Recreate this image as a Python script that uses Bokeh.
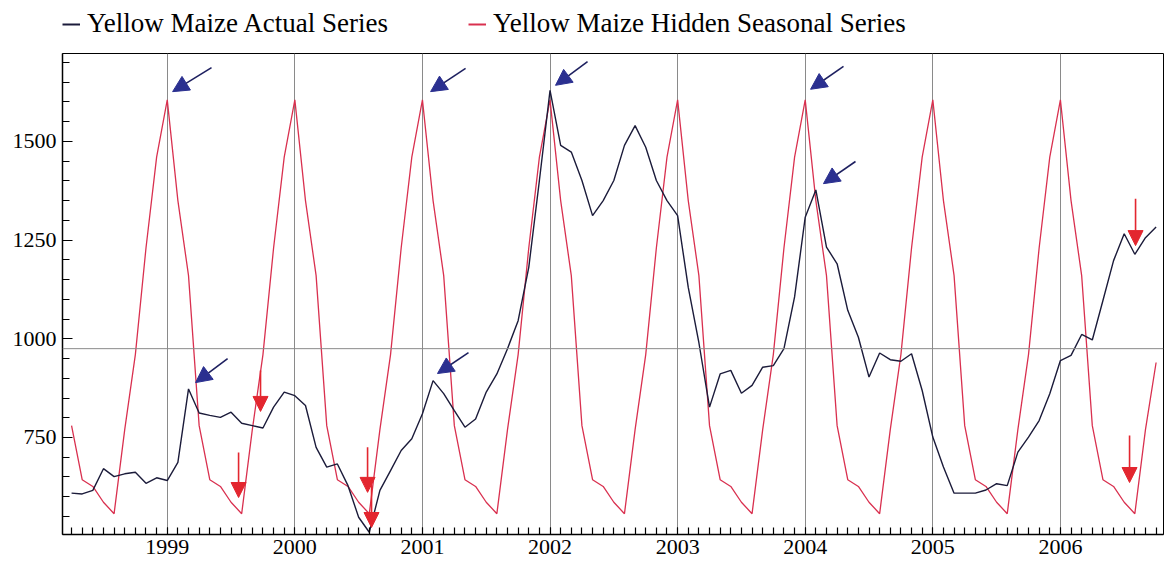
import pandas as pd
from bokeh.plotting import figure
from bokeh.layouts import column
from bokeh.models import (FixedTicker, Span, Arrow, NormalHead, Legend, LegendItem,
                          ColumnDataSource, Range1d)
from bokeh.embed import file_html
from bokeh.resources import INLINE

# ---------------- data ----------------
start_month = "1998-04"
end_month = "2006-10"

actual_series = [
    609, 607, 616, 671, 651, 658, 662, 634, 648,                       # 1998 Apr-Dec
    641, 687, 873, 812, 806, 801, 814, 786, 780, 774, 827, 865,         # 1999
    856, 831, 725, 675, 683, 628, 548, 510, 616, 666, 717, 747,         # 2000
    810, 894, 861, 818, 776, 797, 865, 911, 975, 1046, 1181, 1401,      # 2001
    1629, 1490, 1473, 1401, 1312, 1350, 1401, 1490, 1540, 1485, 1401, 1350,  # 2002
    1312, 1130, 990, 827, 911, 920, 862, 882, 928, 932, 975, 1106,      # 2003
    1308, 1377, 1232, 1190, 1072, 1004, 903, 964, 947, 943, 962, 869,   # 2004
    751, 675, 609, 609, 609, 617, 633, 628, 713, 751, 793, 861,         # 2005
    945, 958, 1011, 997, 1097, 1198, 1266, 1214, 1256, 1283,           # 2006 Jan-Oct
]

seasonal_series = [
    780, 643, 626, 586, 557, 770, 960, 1230, 1460,                      # 1998 Apr-Dec
    1605, 1350, 1160, 780, 643, 626, 586, 557, 770, 960, 1230, 1460,    # 1999
    1605, 1350, 1160, 780, 643, 626, 586, 557, 770, 960, 1230, 1460,    # 2000
    1605, 1350, 1160, 780, 643, 626, 586, 557, 770, 960, 1230, 1460,    # 2001
    1605, 1350, 1160, 780, 643, 626, 586, 557, 770, 960, 1230, 1460,    # 2002
    1605, 1350, 1160, 780, 643, 626, 586, 557, 770, 960, 1230, 1460,    # 2003
    1605, 1350, 1160, 780, 643, 626, 586, 557, 770, 960, 1230, 1460,    # 2004
    1605, 1350, 1160, 780, 643, 626, 586, 557, 770, 960, 1230, 1460,    # 2005
    1605, 1350, 1160, 780, 643, 626, 586, 557, 770, 940,                # 2006 Jan-Oct
]

year_ticks = [1999, 2000, 2001, 2002, 2003, 2004, 2005, 2006]
value_ticks = [750, 1000, 1250, 1500]
mean_level = 975

legend_labels = ["Yellow Maize Actual Series", "Yellow Maize Hidden Seasonal Series"]

# annotation arrows (data coordinates)
blue_arrow_x0 = [1999.347, 2001.338, 2002.294, 2004.300, 2004.394, 1999.473, 2001.361]
blue_arrow_y0 = [1687, 1685, 1702, 1690, 1449, 950, 965]
blue_arrow_x1 = [1999.042, 2001.064, 2002.043, 2004.042, 2004.143, 1999.222, 2001.118]
blue_arrow_y1 = [1626, 1626, 1642, 1632, 1393, 889, 912]

red_arrow_x = [1999.559, 1999.731, 2000.570, 2000.601, 2006.589, 2006.542]
red_arrow_y0 = [712, 920, 725, 641, 1355, 755]
red_arrow_y1 = [598, 816, 611, 522, 1236, 636]

# ---------------- build ----------------
months = pd.date_range(start_month, end_month, freq="MS")
t = list(months.year + (months.month - 1) / 12.0)

FONT = "Liberation Serif"
ACTUAL_COLOR = "#1b1b3a"
SEASON_COLOR = "#d9304f"

p = figure(width=1166, height=512,
           x_range=Range1d(1998.179, 2006.808), y_range=Range1d(504.3, 1722.6),
           output_backend="svg", toolbar_location=None,
           min_border_left=62, min_border_right=3, min_border_top=0, min_border_bottom=31)

p.background_fill_color = "white"
p.border_fill_color = "white"
p.outline_line_color = "black"
p.outline_line_width = 1

# x axis
minor_x = [y + m / 12.0 for y in range(1998, 2007) for m in range(12)]
p.xaxis.ticker = FixedTicker(ticks=year_ticks, minor_ticks=minor_x)
p.xaxis.major_tick_in = 7
p.xaxis.major_tick_out = 0
p.xaxis.minor_tick_in = 7
p.xaxis.minor_tick_out = 0
p.xaxis.axis_line_color = "black"
p.xaxis.axis_line_width = 1.5
p.xaxis.major_tick_line_color = "black"
p.xaxis.minor_tick_line_color = "black"
p.xaxis.minor_tick_line_width = 1.2
p.xaxis.major_label_text_font = FONT
p.xaxis.major_label_text_font_size = "22px"
p.xaxis.major_label_text_color = "black"
p.xaxis.major_label_standoff = 5

# y axis
minor_y = list(range(550, 1701, 50))
p.yaxis.ticker = FixedTicker(ticks=value_ticks, minor_ticks=minor_y)
p.yaxis.major_tick_in = 10
p.yaxis.major_tick_out = 0
p.yaxis.minor_tick_in = 7
p.yaxis.minor_tick_out = 0
p.yaxis.axis_line_color = "black"
p.yaxis.axis_line_width = 1.5
p.yaxis.major_tick_line_color = "black"
p.yaxis.minor_tick_line_color = "black"
p.yaxis.minor_tick_line_width = 1.2
p.yaxis.major_label_text_font = FONT
p.yaxis.major_label_text_font_size = "22px"
p.yaxis.major_label_text_color = "black"
p.yaxis.major_label_standoff = 6

# grid
p.xgrid.ticker = FixedTicker(ticks=year_ticks)
p.xgrid.grid_line_color = "#8a8a8a"
p.xgrid.grid_line_width = 1
p.ygrid.grid_line_color = None
p.add_layout(Span(location=mean_level, dimension="width",
                  line_color="#8a8a8a", line_width=1))

# series
r_season = p.line(t, seasonal_series, line_color=SEASON_COLOR, line_width=1.3)
r_actual = p.line(t, actual_series, line_color=ACTUAL_COLOR, line_width=1.4)

# arrows
blue_src = ColumnDataSource(dict(x0=blue_arrow_x0, y0=blue_arrow_y0,
                                 x1=blue_arrow_x1, y1=blue_arrow_y1))
p.add_layout(Arrow(x_start="x0", y_start="y0", x_end="x1", y_end="y1", source=blue_src,
                   line_color="#1e2060", line_width=1.6,
                   end=NormalHead(size=16, fill_color="#2b3090", line_color="#2b3090")))

red_src = ColumnDataSource(dict(x=red_arrow_x, y0=red_arrow_y0, y1=red_arrow_y1))
p.add_layout(Arrow(x_start="x", y_start="y0", x_end="x", y_end="y1", source=red_src,
                   line_color="#e3262f", line_width=1.6,
                   end=NormalHead(size=15, fill_color="#e3262f", line_color="#e3262f")))

# legend strip above the chart (its frame is aligned with the chart's frame)
lg = figure(width=1166, height=53, x_range=Range1d(0, 1), y_range=Range1d(0, 1),
            x_axis_type=None, y_axis_type=None, output_backend="svg",
            toolbar_location=None, min_border=0)
lg.outline_line_color = None
lg.xgrid.grid_line_color = None
lg.ygrid.grid_line_color = None
# same series drawn here only to provide legend glyphs (they fall outside this strip's ranges)
la = lg.line(t, actual_series, line_color=ACTUAL_COLOR, line_width=2)
ls = lg.line(t, seasonal_series, line_color=SEASON_COLOR, line_width=2)
legend = Legend(items=[LegendItem(label=legend_labels[0], renderers=[la]),
                       LegendItem(label=legend_labels[1], renderers=[ls])],
                orientation="horizontal", location=(0, 14),
                label_text_font=FONT, label_text_font_size="27px",
                label_text_color="black",
                glyph_width=18, label_standoff=7, spacing=80,
                padding=0, margin=0,
                border_line_color=None, background_fill_alpha=0)
lg.add_layout(legend)

layout = column(lg, p, spacing=0)
open("out.html", "w").write(file_html(layout, INLINE))
